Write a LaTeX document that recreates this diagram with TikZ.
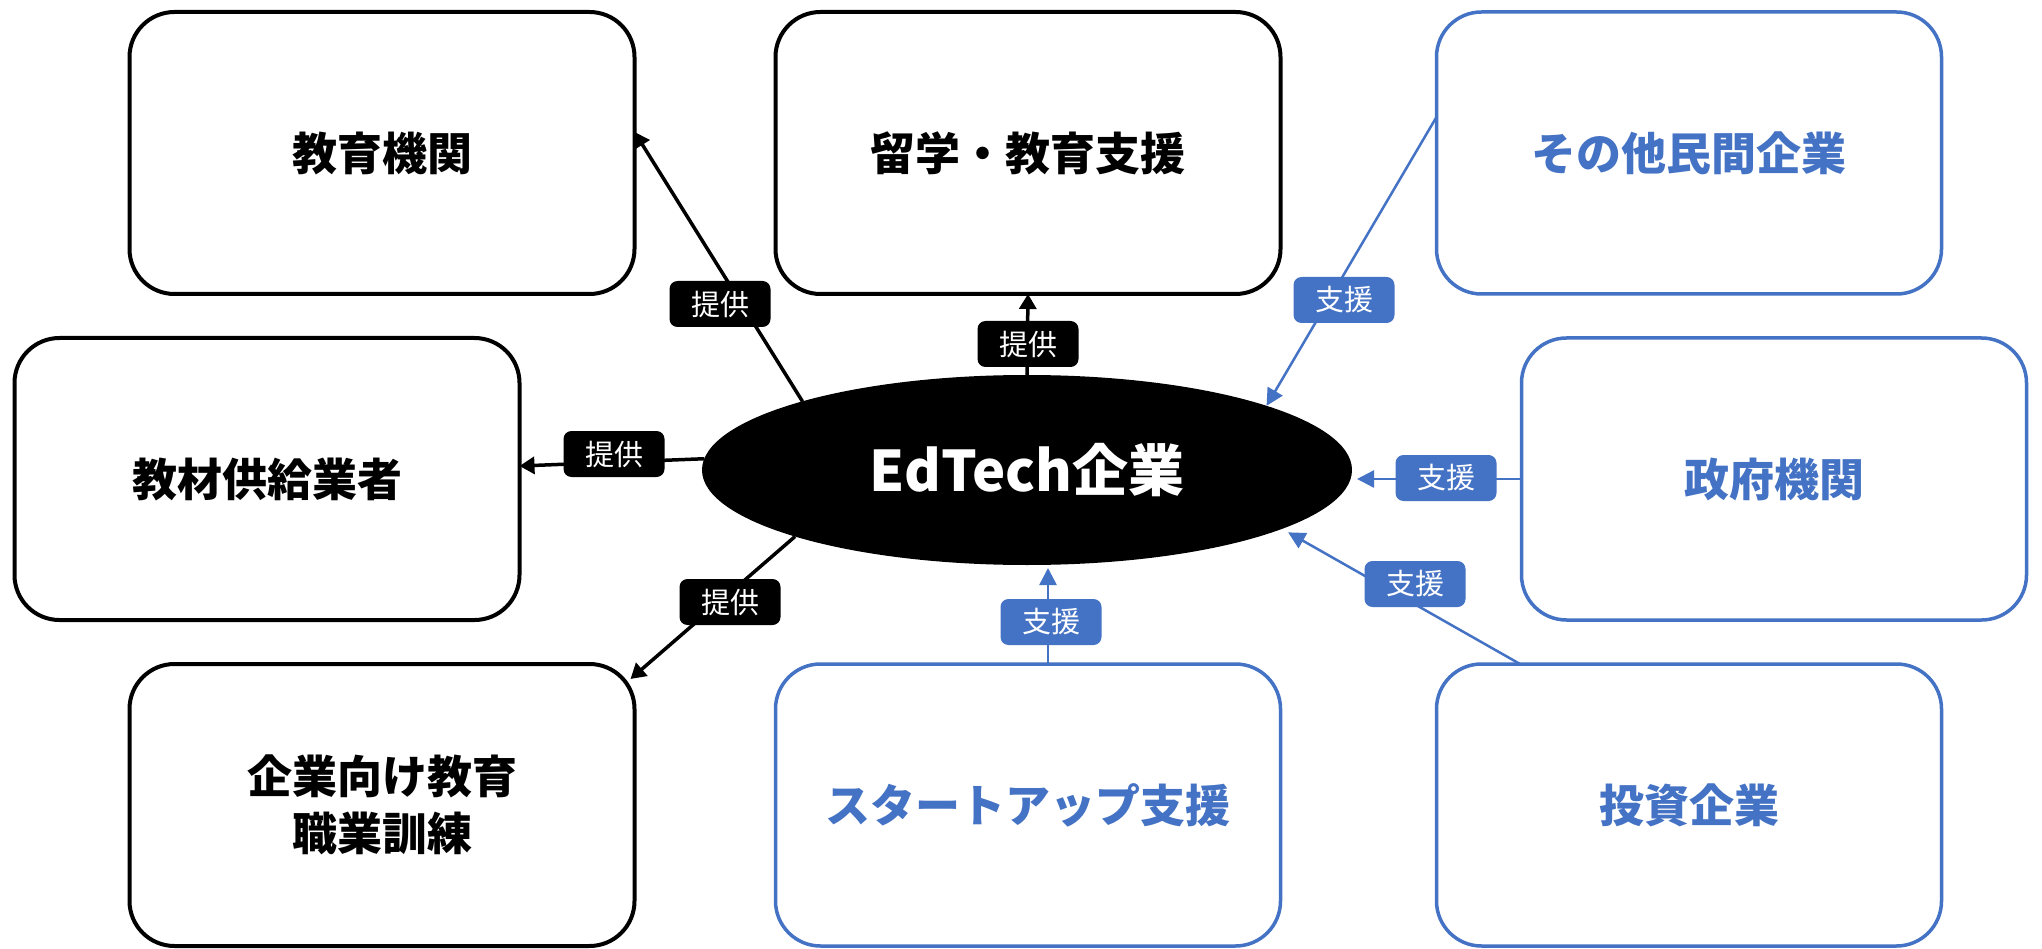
\documentclass[tikz,border=0pt]{standalone}
\usepackage{fontspec}
\setmainfont{Noto Sans CJK JP}
\usetikzlibrary{shapes.geometric,arrows.meta}
\definecolor{mblue}{HTML}{4472C4}
\tikzset{
  box/.style={draw=black, line width=4pt, rounded corners=45pt, minimum width=505pt, minimum height=282pt, fill=white, inner sep=0pt, outer sep=0pt, font=\fontsize{45}{57}\selectfont\bfseries, align=center},
  bbox/.style={box, draw=mblue, line width=3.5pt, text=mblue},
  lab/.style={fill=black, text=white, rounded corners=8pt, minimum width=101pt, minimum height=46pt, inner sep=0pt, font=\fontsize{29}{30}\selectfont},
  blab/.style={lab, fill=mblue},
  parr/.style={draw=black, line width=3.5pt, -{Triangle[length=15pt,width=17pt]}},
  sarr/.style={draw=mblue, line width=2.5pt, -{Triangle[length=17pt,width=17pt]}},
}
\begin{document}
\begin{tikzpicture}[x=1pt,y=-1pt]
\useasboundingbox[fill=white] (0,0) rectangle (2042,949);

\node[box]  (b1) at (382,153)  {教育機関};
\node[box]  (b2) at (1028,153) {留学・教育支援};
\node[bbox] (b3) at (1689,153) {その他民間企業};
\node[box]  (b4) at (267,479)  {教材供給業者};
\node[bbox] (b5) at (1774,479) {政府機関};
\node[box]  (b6) at (382,805)  {企業向け教育\\職業訓練};
\node[bbox] (b7) at (1028,805) {スタートアップ支援};
\node[bbox] (b8) at (1689,805) {投資企業};

\node[ellipse, fill=black, minimum width=650pt, minimum height=190pt, inner sep=0pt, outer sep=0pt, text=white, font=\fontsize{56}{60}\selectfont\bfseries] (ed) at (1027,470) {EdTech企業};

% provide arrows
\draw[parr] (ed.163.8) -- ([yshift=21pt]b1.east);
\draw[parr] (ed.north) -- (b2.south);
\draw[parr] (ed.178.6) -- ([yshift=13pt]b4.east);
\draw[parr] (ed.196.8) -- ([xshift=-4pt,yshift=-15pt]b6.north east);

% support arrows
\coordinate (s3) at ([yshift=36pt]b3.west);
\coordinate (s7) at ([xshift=20pt]b7.north);
\coordinate (s8) at ([xshift=-169pt]b8.north);
\draw[sarr] (s3) -- (ed.15.7);
\draw[sarr, shorten >=5pt] (b5.west) -- (ed.east |- b5.west);
\draw[sarr, shorten >=7pt] (s8) -- (ed.347.9);
\draw[sarr, shorten >=3pt] (s7) -- (s7 |- ed.south);

% labels
\node[lab]  (l1) at (720,304)  {提供};
\node[lab]  (l2) at (1028,344) {提供};
\node[lab]  (l3) at (614,454)  {提供};
\node[lab]  (l4) at (730,602)  {提供};
\node[blab] (l5) at (1344,300) {支援};
\node[blab] (l6) at (1446,478) {支援};
\node[blab] (l7) at (1415,584) {支援};
\node[blab] (l8) at (1051,622) {支援};
\end{tikzpicture}
\end{document}
